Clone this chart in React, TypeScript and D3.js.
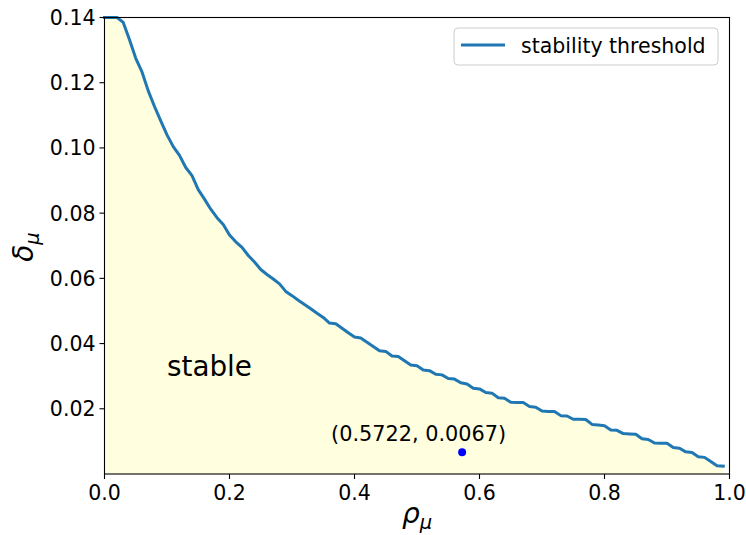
import React from 'react';
import * as d3 from 'd3';

const rhoValues = [
  0.00, 0.01, 0.02, 0.03, 0.04, 0.05, 0.06, 0.07, 0.08, 0.09,
  0.10, 0.11, 0.12, 0.13, 0.14, 0.15, 0.16, 0.17, 0.18, 0.19,
  0.20, 0.21, 0.22, 0.23, 0.24, 0.25, 0.26, 0.27, 0.28, 0.29,
  0.30, 0.31, 0.32, 0.33, 0.34, 0.35, 0.36, 0.37, 0.38, 0.39,
  0.40, 0.41, 0.42, 0.43, 0.44, 0.45, 0.46, 0.47, 0.48, 0.49,
  0.50, 0.51, 0.52, 0.53, 0.54, 0.55, 0.56, 0.57, 0.58, 0.59,
  0.60, 0.61, 0.62, 0.63, 0.64, 0.65, 0.66, 0.67, 0.68, 0.69,
  0.70, 0.71, 0.72, 0.73, 0.74, 0.75, 0.76, 0.77, 0.78, 0.79,
  0.80, 0.81, 0.82, 0.83, 0.84, 0.85, 0.86, 0.87, 0.88, 0.89,
  0.90, 0.91, 0.92, 0.93, 0.94, 0.95, 0.96, 0.97, 0.98, 0.99,
];

const deltaValues = [
  0.1400, 0.1400, 0.1400, 0.1385, 0.1332, 0.1275, 0.1233, 0.1175, 0.1127, 0.1083,
  0.1040, 0.1004, 0.0977, 0.0940, 0.0915, 0.0872, 0.0843, 0.0812, 0.0786, 0.0765,
  0.0733, 0.0712, 0.0695, 0.0670, 0.0650, 0.0627, 0.0612, 0.0598, 0.0583, 0.0560,
  0.0547, 0.0533, 0.0520, 0.0507, 0.0493, 0.0480, 0.0463, 0.0461, 0.0447, 0.0433,
  0.0420, 0.0417, 0.0404, 0.0391, 0.0378, 0.0376, 0.0362, 0.0360, 0.0347, 0.0334,
  0.0332, 0.0319, 0.0317, 0.0306, 0.0304, 0.0293, 0.0291, 0.0280, 0.0276, 0.0263,
  0.0261, 0.0250, 0.0248, 0.0234, 0.0232, 0.0220, 0.0219, 0.0219, 0.0207, 0.0205,
  0.0193, 0.0192, 0.0192, 0.0179, 0.0178, 0.0168, 0.0168, 0.0167, 0.0152, 0.0150,
  0.0148, 0.0135, 0.0134, 0.0124, 0.0123, 0.0122, 0.0108, 0.0106, 0.0095, 0.0094,
  0.0094, 0.0081, 0.0079, 0.0068, 0.0066, 0.0053, 0.0051, 0.0038, 0.0025, 0.0024,
];

const xTicks = [0.0, 0.2, 0.4, 0.6, 0.8, 1.0];
const yTicks = [0.02, 0.04, 0.06, 0.08, 0.10, 0.12, 0.14];

const marked = { rho: 0.5722, delta: 0.0067 };
const legendLabel = 'stability threshold';
const regionLabel = 'stable';

const W = 746;
const H = 535;
const FONT = '"DejaVu Sans", sans-serif';

export default function App() {
  const x = d3.scaleLinear().domain([0, 1]).range([104.5, 729.5]);
  const y = d3.scaleLinear().domain([0, 0.14]).range([474, 17.5]);

  const pts: [number, number][] = rhoValues.map((r, i) => [r, deltaValues[i]]);

  const area = d3.area<[number, number]>()
    .x(d => x(d[0]))
    .y0(y(0))
    .y1(d => y(d[1]));
  const line = d3.line<[number, number]>()
    .x(d => x(d[0]))
    .y(d => y(d[1]));

  const px = x(marked.rho);
  const py = y(marked.delta);

  return (
    <div style={{ position: 'absolute', left: 0, top: 0 }}>
      <svg width={W} height={H} style={{ display: 'block', background: '#fff' }} fontFamily={FONT}>
        <path d={area(pts) || ''} fill="#ffffe0" />
        <path d={line(pts) || ''} fill="none" stroke="#1f77b4" strokeWidth={3} strokeLinejoin="round" strokeLinecap="square" />

        <circle cx={px} cy={py} r={4} fill="#0000ff" />
        <text x={px - 43.5} y={py - 11.5} textAnchor="middle" fontSize={20.8} fill="#000">
          ({marked.rho.toFixed(4)}, {marked.delta.toFixed(4)})
        </text>

        <text x={x(0.1)} y={y(0.03)} fontSize={27.8} fill="#000">{regionLabel}</text>

        {/* frame */}
        <rect x={x(0)} y={y(0.14)} width={x(1) - x(0)} height={y(0) - y(0.14)} fill="none" stroke="#000" strokeWidth={1.1} />

        {/* x axis */}
        {xTicks.map(t => (
          <g key={'x' + t}>
            <line x1={x(t)} x2={x(t)} y1={y(0)} y2={y(0) + 5} stroke="#000" strokeWidth={1.1} />
            <text x={x(t)} y={y(0) + 26} textAnchor="middle" fontSize={20.5} fill="#000">{t.toFixed(1)}</text>
          </g>
        ))}
        {/* y axis */}
        {yTicks.map(t => (
          <g key={'y' + t}>
            <line x1={x(0) - 5} x2={x(0)} y1={y(t)} y2={y(t)} stroke="#000" strokeWidth={1.1} />
            <text x={x(0) - 9} y={y(t) + 7.5} textAnchor="end" fontSize={20.5} fill="#000">{t.toFixed(2)}</text>
          </g>
        ))}

        {/* axis labels */}
        <text x={417} y={523} textAnchor="middle" fontSize={28} fontStyle="italic" fill="#000">
          ρ<tspan fontSize={19.5} dy={6}>μ</tspan>
        </text>
        <text transform={`translate(33,247) rotate(-90)`} textAnchor="middle" fontSize={28} fontStyle="italic" fill="#000">
          δ<tspan fontSize={19.5} dy={6}>μ</tspan>
        </text>

        {/* legend */}
        <g>
          <rect x={454} y={28} width={264} height={37} rx={4} fill="#fff" fillOpacity={0.8} stroke="#cccccc" strokeWidth={1} />
          <line x1={461} x2={505} y1={45} y2={45} stroke="#1f77b4" strokeWidth={3} />
          <text x={521} y={53} fontSize={20.5} fill="#000">{legendLabel}</text>
        </g>
      </svg>
    </div>
  );
}
